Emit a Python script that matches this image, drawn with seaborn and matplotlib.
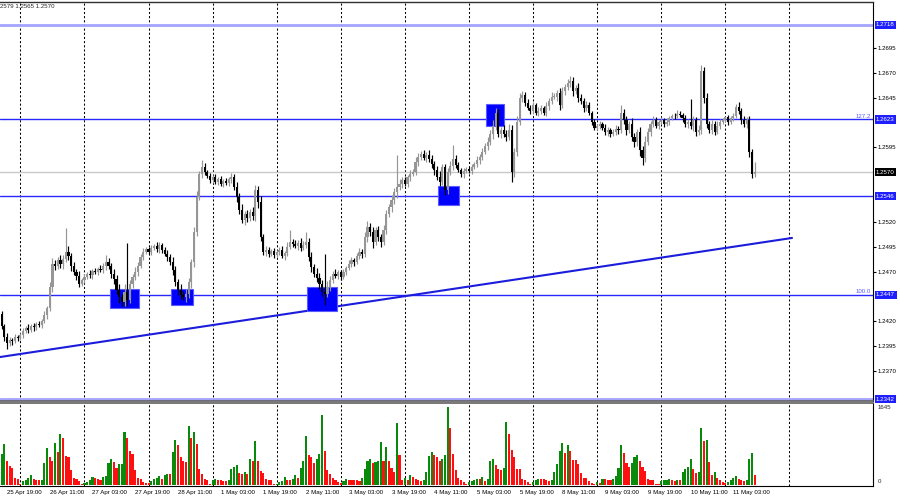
import matplotlib
matplotlib.use('Agg')
import matplotlib.pyplot as plt
import matplotlib.transforms as mtransforms
from matplotlib.patches import Rectangle
import seaborn as sns
import numpy as np
import pandas as pd

# H1 closes in pips above 1.2300, one row per trading day
first_open = 127
close_pips = [
    115, 104, 98, 101, 100, 104, 103,
    106, 110, 113, 111, 115, 114, 117, 116, 120, 126, 133, 155, 178, 176, 182, 178, 183, 190, 186, 176, 170, 166, 158, 162,
    165, 168, 167, 171, 170, 173, 172, 176, 180, 176, 168, 163, 152, 145, 140, 150, 142, 158, 165, 170, 176, 185, 190, 193,
    190, 194, 196, 193, 197, 192, 188, 185, 180, 172, 160, 152, 147, 145, 148, 160, 180, 210, 245, 268, 275, 270, 266, 262,
    265, 260, 263, 258, 261, 259, 263, 265, 255, 245, 232, 222, 228, 224, 230, 226, 252, 240, 205, 190, 192, 188, 191, 187,
    190, 192, 186, 189, 195, 200, 198, 196, 199, 194, 197, 200, 185, 175, 168, 164, 158, 150, 148, 155, 162, 168, 166, 170,
    165, 170, 174, 178, 182, 180, 186, 190, 188, 205, 215, 210, 200, 212, 205, 200, 212, 228, 235, 242, 250, 255, 258, 262,
    258, 265, 268, 270, 280, 285, 288, 284, 287, 283, 278, 272, 265, 260, 275, 252, 270, 276, 283, 277, 272, 268, 271, 273,
    271, 275, 278, 282, 285, 290, 296, 300, 308, 316, 330, 308, 312, 308, 305, 312, 270, 290, 320, 345, 348, 340, 335, 332,
    338, 330, 332, 335, 330, 337, 342, 346, 346, 350, 338, 352, 356, 360, 362, 352, 355, 345, 342, 335, 338, 330, 320, 314,
    316, 318, 314, 310, 312, 308, 310, 313, 312, 330, 322, 312, 318, 305, 300, 310, 292, 284, 300, 310, 318, 322, 316, 320,
    322, 318, 320, 324, 327, 326, 329, 328, 324, 318, 320, 316, 322, 310, 312, 372, 345, 318, 312, 318, 310, 316, 320, 322,
    325, 320, 324, 326, 336, 332, 322, 318, 322, 290, 268, 270,
]
# wick lengths in pips above / below the body
up_wick = [
    3, 2, 4, 3, 2, 3, 2,
    2, 3, 2, 4, 2, 3, 2, 3, 2, 4, 3, 5, 6, 4, 3, 5, 4, 24, 6, 3, 4, 3, 5, 2,
    3, 2, 4, 2, 3, 2, 4, 3, 7, 4, 3, 5, 4, 6, 3, 8, 49, 4, 3, 5, 4, 3, 4, 2,
    2, 3, 2, 4, 3, 2, 3, 4, 3, 5, 4, 3, 6, 4, 5, 4, 3, 5, 6, 3, 7, 4, 2, 3,
    2, 3, 2, 3, 2, 3, 2, 4, 3, 5, 4, 6, 3, 4, 3, 5, 5, 4, 6, 3, 4, 3, 2, 3,
    2, 3, 4, 2, 5, 12, 3, 4, 3, 5, 4, 10, 4, 5, 3, 6, 5, 4, 38, 6, 4, 3, 5, 2,
    2, 3, 2, 4, 3, 2, 3, 4, 3, 5, 6, 4, 5, 3, 4, 3, 5, 4, 3, 5, 4, 32, 5, 3,
    3, 2, 4, 3, 5, 4, 3, 4, 3, 5, 4, 3, 4, 6, 3, 3, 4, 5, 14, 4, 3, 2, 3, 2,
    2, 3, 2, 4, 3, 4, 3, 5, 4, 6, 5, 4, 3, 5, 4, 6, 5, 4, 6, 5, 4, 3, 4, 3,
    3, 2, 4, 3, 2, 4, 3, 5, 4, 3, 5, 4, 3, 4, 5, 4, 3, 5, 4, 3, 4, 3, 2, 3,
    2, 3, 2, 4, 3, 2, 3, 4, 3, 8, 4, 5, 3, 6, 4, 3, 5, 4, 6, 4, 3, 4, 3, 2,
    3, 2, 4, 3, 2, 3, 4, 3, 2, 4, 3, 24, 4, 3, 5, 6, 4, 5, 3, 4, 3, 5, 3, 2,
    2, 3, 2, 4, 3, 5, 3, 4, 3, 4, 3, 10,
]
dn_wick = [
    3, 4, 6, 3, 4, 2, 3,
    2, 3, 2, 3, 2, 4, 3, 2, 3, 2, 4, 3, 5, 4, 3, 4, 5, 3, 4, 5, 3, 4, 3, 2,
    3, 2, 3, 4, 2, 3, 2, 3, 4, 3, 4, 5, 4, 6, 5, 4, 6, 3, 4, 3, 4, 2, 3, 2,
    2, 3, 2, 3, 4, 3, 2, 4, 3, 5, 4, 5, 4, 3, 5, 4, 6, 5, 4, 3, 4, 3, 2, 3,
    3, 2, 3, 2, 3, 2, 3, 4, 3, 5, 4, 3, 5, 4, 3, 4, 5, 6, 4, 3, 4, 3, 2, 3,
    2, 3, 2, 4, 3, 2, 3, 2, 4, 3, 2, 3, 4, 5, 3, 4, 5, 4, 11, 3, 4, 3, 2, 3,
    3, 2, 3, 2, 3, 4, 2, 3, 4, 3, 5, 4, 6, 3, 4, 5, 3, 4, 3, 5, 4, 6, 3, 4,
    2, 3, 4, 2, 3, 4, 3, 2, 4, 3, 4, 5, 3, 4, 3, 5, 4, 3, 4, 3, 2, 3, 4, 2,
    2, 3, 2, 3, 4, 3, 2, 4, 3, 5, 4, 3, 4, 3, 4, 3, 10, 5, 4, 3, 4, 3, 2, 3,
    3, 2, 4, 3, 2, 3, 4, 3, 2, 4, 5, 3, 4, 3, 4, 5, 3, 4, 3, 4, 3, 2, 3, 2,
    2, 3, 2, 3, 4, 3, 2, 3, 4, 3, 4, 5, 3, 4, 5, 4, 6, 7, 4, 3, 4, 3, 2, 3,
    2, 3, 2, 3, 2, 3, 2, 3, 4, 3, 4, 3, 5, 4, 3, 4, 5, 4, 3, 4, 3, 2, 3, 2,
    2, 3, 2, 3, 2, 3, 4, 3, 4, 5, 4, 3,
]
volume = [
    660, 870, 520, 400, 370, 160, 145,
    35, 90, 120, 160, 210, 140, 120, 105, 120, 480, 780, 600, 520, 900, 700, 1080, 990, 620, 600, 330, 160, 140, 90, 40,
    50, 80, 120, 170, 150, 130, 115, 180, 190, 480, 555, 490, 370, 440, 460, 1130, 990, 720, 650, 330, 160, 140, 70, 60,
    60, 100, 140, 160, 190, 140, 210, 230, 230, 710, 950, 855, 590, 510, 490, 1250, 990, 1130, 870, 350, 245, 140, 105, 35,
    120, 140, 120, 105, 90, 90, 120, 350, 380, 420, 260, 245, 280, 230, 555, 505, 940, 505, 310, 255, 140, 120, 105, 30,
    40, 70, 90, 170, 120, 105, 140, 210, 160, 370, 520, 1040, 645, 590, 465, 555, 660, 1470, 715, 330, 230, 160, 120, 70,
    50, 100, 140, 120, 120, 105, 105, 90, 160, 350, 520, 555, 465, 490, 505, 920, 505, 810, 505, 370, 280, 1320, 645, 105,
    160, 120, 210, 175, 140, 105, 90, 120, 280, 625, 695, 645, 605, 505, 560, 640, 1645, 1215, 660, 330, 160, 120, 70, 35,
    70, 90, 120, 140, 140, 175, 90, 140, 505, 555, 435, 345, 325, 360, 1340, 1075, 740, 590, 345, 345, 140, 105, 70, 40,
    70, 120, 140, 140, 140, 105, 90, 105, 280, 450, 715, 890, 675, 845, 715, 540, 535, 450, 255, 160, 160, 90, 50, 40,
    70, 50, 140, 140, 105, 105, 140, 190, 370, 845, 675, 465, 395, 465, 590, 645, 520, 395, 310, 140, 120, 105, 35, 30,
    85, 105, 120, 140, 120, 90, 120, 120, 280, 345, 395, 555, 345, 255, 280, 1200, 935, 955, 485, 210, 290, 160, 120, 70,
    50, 70, 120, 160, 190, 140, 105, 90, 120, 555, 680, 210,
]

x_labels = ['25 Apr 19:00', '26 Apr 11:00', '27 Apr 03:00', '27 Apr 19:00', '28 Apr 11:00',
            '1 May 03:00', '1 May 19:00', '2 May 11:00', '3 May 03:00', '3 May 19:00',
            '4 May 11:00', '5 May 03:00', '5 May 19:00', '8 May 11:00', '9 May 03:00',
            '9 May 19:00', '10 May 11:00', '11 May 03:00']
price_ticks = [1.2370, 1.2395, 1.2420, 1.2470, 1.2495, 1.2520, 1.2595, 1.2645, 1.2670, 1.2695]

# horizontal levels: price, colour, width, label box colour
levels = [(1.2718, '#a4a4ff', 2.0, '#1e1eff'),
          (1.2623, '#2828ff', 1.0, '#1e1eff'),
          (1.2570, '#c8c8c8', 1.0, '#000000'),
          (1.2546, '#2828ff', 1.0, '#1e1eff'),
          (1.2447, '#2828ff', 1.0, '#1e1eff'),
          (1.2342, '#a4a4ff', 2.0, '#1e1eff')]
fibo = [(1.2623, '127.2'), (1.2447, '100.0')]

# support/resistance zones: bar from, bar to, price low, price high
zones = [(40.6, 51.4, 1.24334, 1.24523),
         (63.4, 71.5, 1.24365, 1.24529),
         (114.5, 125.5, 1.24305, 1.24549),
         (163.5, 171.4, 1.25370, 1.25561),
         (181.4, 188.2, 1.26165, 1.26386)]
trend_bars = [-0.64, 296.0]
trend_prices = [1.23842, 1.25039]

sns.set_style('white')
plt.rcParams['font.family'] = ['Liberation Sans', 'DejaVu Sans']
FS = 4.4

close = 1.23 + np.array(close_pips) / 1e4
opens = np.concatenate([[1.23 + first_open / 1e4], close[:-1]])
high = np.maximum(opens, close) + np.array(up_wick) / 1e4
low = np.minimum(opens, close) - np.array(dn_wick) / 1e4
vol = np.array(volume)
idx = np.arange(len(close))

times = pd.date_range('2023-04-25 17:00', '2023-05-12 11:00', freq='h')
times = times[times.dayofweek < 5]
names = list(times.strftime('%-d %b %H:%M'))
tick_pos = [names.index(s) for s in x_labels]
midnights = [i for i, t in enumerate(times) if t.hour == 0]

fig = plt.figure(figsize=(9, 5), dpi=100)
ax = fig.add_axes([0, 0.198, 0.97, 0.798])
axv = fig.add_axes([0, 0.028, 0.97, 0.166])
xlim = (-0.64, -0.64 + 873 / 2.67)

for a in (ax, axv):
    a.set_xlim(*xlim)
    for m in midnights:
        a.axvline(m, color='black', lw=0.75, ls=(0, (2, 2)), zorder=1)

# levels and zones
for p, c, w, _ in levels:
    ax.axhline(p, color=c, lw=w, zorder=2)
for b0, b1, p0, p1 in zones:
    ax.add_patch(Rectangle((b0, p0), b1 - b0, p1 - p0, fc='#0000ff', ec='#5a5aff', lw=0.8, zorder=3))
sns.lineplot(x=trend_bars, y=trend_prices, ax=ax, color='#1c1cdc', lw=1.5, zorder=2.5)

# candles
bull = close >= opens
col = np.where(bull, '#969696', '#000000')
ax.vlines(idx, low, high, colors=col, lw=0.85, zorder=4)
ax.bar(idx, np.maximum(np.abs(close - opens), 0.00007), bottom=np.minimum(opens, close),
       width=0.8, color=col, lw=0, zorder=4)

ax.set_ylim(1.2340, 1.27411)
ax.set_xticks([])
ax.yaxis.tick_right()
ax.set_yticks(price_ticks)
ax.set_yticklabels([f'{p:.4f}' for p in price_ticks])
ax.tick_params(axis='y', labelsize=FS, length=2, pad=1.5, colors='black')
ax.set_xlabel('')
ax.set_ylabel('')

trans = mtransforms.blended_transform_factory(ax.transAxes, ax.transData)
for p, _, _, bc in levels:
    ax.annotate(f'{p:.4f}', xy=(1, p), xycoords=trans, xytext=(2.2, 0), textcoords='offset points',
                ha='left', va='center', fontsize=FS, color='white', annotation_clip=False, zorder=6,
                bbox=dict(boxstyle='square,pad=0.25', fc=bc, ec='none'))
for p, t in fibo:
    ax.text(0.998, p + 0.00003, t, transform=trans, ha='right', va='bottom', fontsize=FS, color='#5a5aff')

# volumes: green when above the previous bar
up = np.concatenate([[True], vol[1:] > vol[:-1]])
axv.bar(idx, vol, width=0.78, color=np.where(up, '#0a8a0a', '#ff1010'), lw=0, zorder=3)
axv.set_ylim(-12, 1730)
axv.set_yticks([])
axv.set_xticks(tick_pos)
axv.set_xticklabels(x_labels, ha='left')
axv.tick_params(axis='x', labelsize=FS, length=2, pad=1, colors='black')
vtrans = mtransforms.blended_transform_factory(axv.transAxes, axv.transData)
axv.text(1.005, vol.max(), f'{vol.max()}', transform=vtrans, ha='left', va='center', fontsize=FS)
axv.text(1.005, 40, '0', transform=vtrans, ha='left', va='bottom', fontsize=FS)

for a in (ax, axv):
    a.spines['left'].set_visible(False)
    a.spines['right'].set_color('black')
    a.spines['right'].set_linewidth(0.8)
ax.spines['top'].set_color('#303030')
ax.spines['top'].set_linewidth(1.0)
ax.spines['bottom'].set_color('#606060')
ax.spines['bottom'].set_linewidth(1.2)
axv.spines['top'].set_color('#606060')
axv.spines['top'].set_linewidth(1.2)
axv.spines['bottom'].set_color('black')
axv.spines['bottom'].set_linewidth(0.8)

fig.text(0.0, 0.988, '2579 1.2565 1.2570', fontsize=FS, ha='left', va='center')

fig.savefig('out.png', dpi=100)
plt.close(fig)
